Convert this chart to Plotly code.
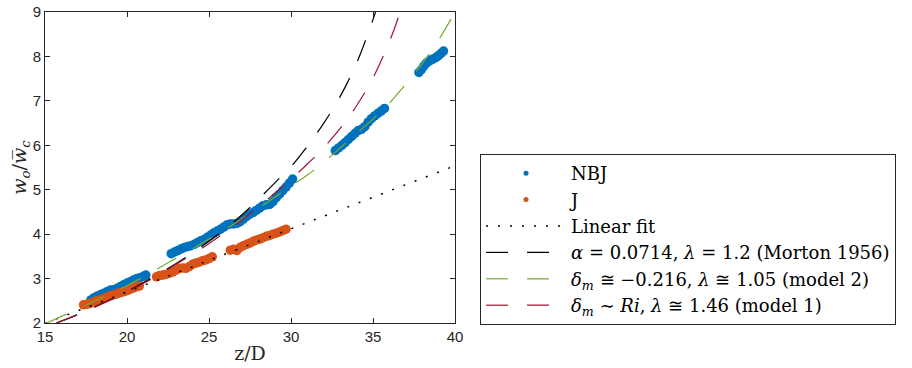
import plotly.graph_objects as go

# ---- data ----
nbj_z = [17.8, 18.0, 18.2, 18.4, 18.6, 18.8, 19.0, 19.2, 19.4, 19.6, 19.8, 20.0, 20.2, 20.4, 20.6, 20.8, 21.0, 21.15,
         22.7, 22.9, 23.1, 23.3, 23.5, 23.7, 23.9, 24.1, 24.3, 24.5, 24.7, 24.9, 25.1, 25.3, 25.5, 25.7, 25.9, 26.1,
         26.3, 26.5, 26.7, 26.9, 27.1, 27.3, 27.5, 27.7, 27.9, 28.1, 28.3, 28.5, 28.7, 28.9, 29.1, 29.3, 29.5, 29.7,
         29.9, 30.1,
         32.7, 32.9, 33.1, 33.3, 33.5, 33.7, 33.9, 34.1, 34.3, 34.5, 34.7, 34.9, 35.1, 35.3, 35.5, 35.7,
         37.8, 37.95, 38.1, 38.25, 38.4, 38.55, 38.7, 38.85, 39.0, 39.15, 39.3]
nbj_w = [2.52, 2.57, 2.61, 2.64, 2.67, 2.71, 2.74, 2.75, 2.78, 2.82, 2.86, 2.90, 2.93, 2.97, 3.00, 3.02, 3.05, 3.08,
         3.56, 3.60, 3.63, 3.67, 3.70, 3.72, 3.74, 3.77, 3.81, 3.85, 3.88, 3.93, 3.98, 4.03, 4.07, 4.11, 4.16, 4.21,
         4.23, 4.23, 4.24, 4.28, 4.34, 4.40, 4.45, 4.49, 4.54, 4.59, 4.64, 4.66, 4.67, 4.73, 4.82, 4.90, 4.98, 5.06,
         5.15, 5.24,
         5.88, 5.94, 6.00, 6.06, 6.13, 6.20, 6.27, 6.33, 6.36, 6.42, 6.52, 6.60, 6.66, 6.72, 6.77, 6.83,
         7.64, 7.70, 7.78, 7.85, 7.89, 7.92, 7.95, 7.98, 8.02, 8.07, 8.12]

j_z = [17.35, 17.55, 17.75, 17.95, 18.15, 18.35, 18.55, 18.75, 18.95, 19.15, 19.35, 19.55, 19.75, 19.95, 20.15,
       20.35, 20.55, 20.75,
       21.8, 22.0, 22.2, 22.4, 22.6, 22.8, 23.0, 23.2, 23.4, 23.6, 23.8, 24.0, 24.2, 24.4, 24.6, 24.8, 25.0, 25.2,
       26.3, 26.5, 26.7, 26.9, 27.1, 27.3, 27.5, 27.7, 27.9, 28.1, 28.3, 28.5, 28.7, 28.9, 29.1, 29.3, 29.5, 29.7]
j_w = [2.41, 2.42, 2.44, 2.47, 2.50, 2.52, 2.55, 2.58, 2.61, 2.63, 2.65, 2.68, 2.70, 2.72, 2.75,
       2.78, 2.81, 2.83,
       3.04, 3.07, 3.08, 3.10, 3.12, 3.15, 3.19, 3.23, 3.24, 3.23, 3.27, 3.32, 3.35, 3.37, 3.40, 3.42, 3.45, 3.49,
       3.64, 3.66, 3.63, 3.70, 3.74, 3.77, 3.80, 3.84, 3.87, 3.89, 3.92, 3.95, 3.97, 4.00, 4.02, 4.05, 4.08, 4.11]

lin_z = [15, 40]
lin_w = [1.99, 5.54]

morton_z = [15.7, 17, 18, 19, 20, 21, 22, 23, 24, 25, 26, 27, 28, 29, 30, 31, 32, 33, 34, 34.8, 35.2]
morton_w = [2.00, 2.19, 2.36, 2.53, 2.71, 2.91, 3.12, 3.34, 3.58, 3.84, 4.12, 4.43, 4.78, 5.15, 5.52, 5.98,
            6.50, 7.10, 7.85, 8.62, 9.05]

model2_z = [15.1, 16, 17, 18, 19, 20, 21, 22, 23, 24, 25, 26, 27, 28, 29, 30, 31, 32, 33, 34, 35, 36, 37, 38, 39, 40]
model2_w = [2.00, 2.15, 2.32, 2.49, 2.66, 2.84, 3.04, 3.25, 3.46, 3.67, 3.89, 4.11, 4.34, 4.58, 4.83, 5.08,
            5.33, 5.62, 5.94, 6.27, 6.59, 6.95, 7.38, 7.84, 8.37, 9.00]

model1_z = [15.7, 17, 18, 19, 20, 21, 22, 23, 24, 25, 26, 27, 28, 29, 30, 31, 32, 33, 34, 35, 35.8, 36.2, 36.7]
model1_w = [2.00, 2.19, 2.35, 2.52, 2.70, 2.89, 3.10, 3.32, 3.55, 3.79, 4.05, 4.32, 4.61, 4.92, 5.24, 5.58,
            5.95, 6.38, 6.89, 7.52, 8.16, 8.52, 9.05]

x_ticks = [15, 20, 25, 30, 35, 40]
y_ticks = [2, 3, 4, 5, 6, 7, 8, 9]

names = ["NBJ", "J", "Linear fit",
         "<i>α</i> = 0.0714, <i>λ</i> = 1.2 (Morton 1956)",
         "<i>δ<sub>m</sub></i> ≅ −0.216, <i>λ</i> ≅ 1.05 (model 2)",
         "<i>δ<sub>m</sub></i> ∼ <i>Ri</i>, <i>λ</i> ≅ 1.46 (model 1)"]

BLUE = "#0072BD"
ORANGE = "#D95319"
GREEN = "#77AC30"
RED = "#A2142F"
AX = "#262626"
SERIF = "DejaVu Serif, serif"
SANS = "Liberation Sans, Arial, sans-serif"
DASH = "22px,19px"

fig = go.Figure()
# data markers
fig.add_trace(go.Scatter(x=nbj_z, y=nbj_w, mode="markers", showlegend=False,
                         marker=dict(color=BLUE, size=9.5, line=dict(width=0))))
fig.add_trace(go.Scatter(x=j_z, y=j_w, mode="markers", showlegend=False,
                         marker=dict(color=ORANGE, size=9.5, line=dict(width=0))))
# legend entries for the data (small dots)
fig.add_trace(go.Scatter(x=[None], y=[None], mode="markers", name=names[0],
                         marker=dict(color=BLUE, size=5)))
fig.add_trace(go.Scatter(x=[None], y=[None], mode="markers", name=names[1],
                         marker=dict(color=ORANGE, size=5)))
# lines
fig.add_trace(go.Scatter(x=lin_z, y=lin_w, mode="lines", name=names[2],
                         line=dict(color="black", width=1.5, dash="2px,10px")))
fig.add_trace(go.Scatter(x=morton_z, y=morton_w, mode="lines", name=names[3], line_shape="spline",
                         line=dict(color="black", width=1.2, dash=DASH)))
fig.add_trace(go.Scatter(x=model2_z, y=model2_w, mode="lines", name=names[4], line_shape="spline",
                         line=dict(color=GREEN, width=1.2, dash=DASH)))
fig.add_trace(go.Scatter(x=model1_z, y=model1_w, mode="lines", name=names[5], line_shape="spline",
                         line=dict(color=RED, width=1.2, dash=DASH)))

axis_common = dict(showgrid=False, zeroline=False, showline=True, mirror="ticks",
                   linecolor=AX, linewidth=1, ticks="inside", ticklen=5, tickcolor=AX,
                   automargin=False,
                   tickfont=dict(family=SANS, size=15, color=AX))

fig.update_layout(
    width=912, height=368,
    margin=dict(l=45, r=457, t=12, b=45),
    paper_bgcolor="white", plot_bgcolor="white",
    xaxis=dict(range=[15, 40], tickvals=x_ticks,
               title=dict(text="z/D", font=dict(family=SERIF, size=19, color=AX), standoff=2),
               **axis_common),
    yaxis=dict(range=[2, 9], tickvals=y_ticks,
               title=dict(text="<i>w<sub>o</sub></i>/<i>w\u0305<sub>c</sub></i>",
                          font=dict(family=SERIF, size=19, color=AX), standoff=0),
               **axis_common),
    legend=dict(x=1.061, y=0.5434, xanchor="left", yanchor="top",
                bordercolor=AX, borderwidth=1, bgcolor="white",
                font=dict(family=SERIF, size=18, color="black"),
                itemwidth=80, tracegroupgap=0),
)

# remove the browser's default 8px body margin so the figure sits at the page's top-left
fig.write_html("out.html",
               config={"displayModeBar": False},
               post_script="document.body.style.margin='0';document.body.style.overflow='hidden';")
